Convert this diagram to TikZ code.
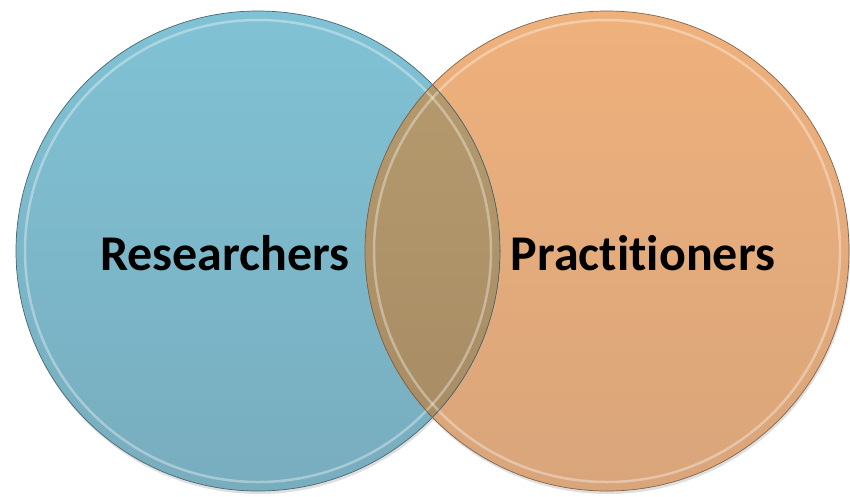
\documentclass[tikz,border=0pt]{standalone}
\usepackage{fontspec}
\setmainfont[Ligatures=NoCommon]{Carlito}
\usetikzlibrary{shapes.geometric, shadows, positioning}

\definecolor{setblue}{HTML}{80C2D5}
\definecolor{setbluelow}{HTML}{78ADBE}
\definecolor{setorange}{HTML}{EFB17C}
\definecolor{setorangelow}{HTML}{D9A57B}
\definecolor{overlaptop}{HTML}{B89C6F}
\definecolor{overlaplow}{HTML}{A58A63}

\begin{document}
\begin{tikzpicture}[
        x=1pt, y=-1pt,
        set/.style = {ellipse, inner sep=0pt,
                      minimum width=484pt, minimum height=480pt},
        rim/.style = {draw=#1, line width=0.7pt},
        bevel/.style = {draw=white, opacity=0.35, line width=2.5pt},
        word/.style = {font=\bfseries\fontsize{50}{60}\selectfont},
        ]
    \useasboundingbox (0,0) rectangle (850,496);

    % the two sets
    \node [set, top color=setblue, bottom color=setbluelow,
           drop shadow={opacity=0.25, shadow xshift=1pt, shadow yshift=-3pt}]
        (res) at (258,251) {};
    \node [set, top color=setorange, bottom color=setorangelow,
           drop shadow={opacity=0.25, shadow xshift=1pt, shadow yshift=-3pt}]
        (prac) at (607,251) {};

    % overlap
    \begin{scope}
        \clip (res.center) ellipse [x radius=242pt, y radius=240pt];
        \fill [top color=overlaptop, bottom color=overlaplow]
            (prac.center) ellipse [x radius=242pt, y radius=240pt];
    \end{scope}

    % rims and bevels
    \draw [bevel] (res.center) ellipse [x radius=233pt, y radius=231pt];
    \draw [bevel] (prac.center) ellipse [x radius=233pt, y radius=231pt];
    \draw [rim=setbluelow!60!black] (res.center) ellipse [x radius=242pt, y radius=240pt];
    \draw [rim=setorangelow!60!black] (prac.center) ellipse [x radius=242pt, y radius=240pt];

    % labels
    \node [word] (reslabel) at (225,253) {Researchers};
    \node [word] (praclabel) at (643,253) {Practitioners};
\end{tikzpicture}
\end{document}
